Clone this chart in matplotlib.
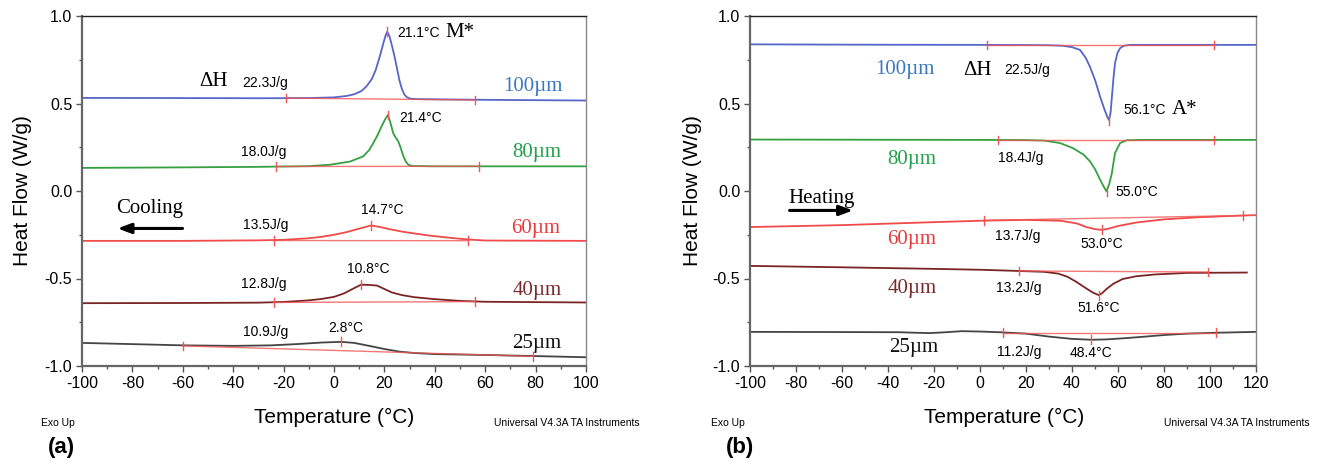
import numpy as np
import matplotlib.pyplot as plt

plt.rcParams['font.family'] = ['Liberation Sans', 'DejaVu Sans']
plt.rcParams['axes.unicode_minus'] = False

# ---- panel (a): cooling ----
a_T_100 = [-100, -60, -30, -10, 0, 5, 8, 11, 13, 15, 16.5, 18, 19.5, 20.5, 21.1, 22, 23, 24, 25, 26, 27, 28,
           29, 30.5, 33, 40, 60, 100]
a_HF_100 = [0.532, 0.531, 0.530, 0.531, 0.535, 0.543, 0.553, 0.572, 0.60, 0.64, 0.69, 0.76, 0.84, 0.89, 0.91,
            0.885, 0.83, 0.77, 0.70, 0.63, 0.58, 0.55, 0.535, 0.527, 0.525, 0.524, 0.521, 0.517]
a_T_80 = [-100, -60, -30, -10, -1.6, 6.3, 11.6, 14, 15.6, 17.5, 18.9, 20.3, 21.4, 22.2, 23.5, 24.5, 25.5, 26.5,
          27.5, 28.5, 29.5, 31, 40, 100]
a_HF_80 = [0.132, 0.135, 0.138, 0.142, 0.15, 0.168, 0.198, 0.235, 0.274, 0.325, 0.37, 0.41, 0.435, 0.40, 0.33,
           0.305, 0.284, 0.245, 0.20, 0.168, 0.15, 0.143, 0.141, 0.141]
a_T_60 = [-100, -60, -30, -20, -10, -5, 0, 5, 10, 14.7, 18, 22, 27, 32, 38, 45, 53, 60, 100]
a_HF_60 = [-0.285, -0.285, -0.282, -0.279, -0.27, -0.262, -0.25, -0.235, -0.215, -0.197, -0.205, -0.218,
           -0.232, -0.243, -0.255, -0.266, -0.277, -0.283, -0.285]
a_T_40 = [-100, -60, -30, -20, -10, -5, 0, 4, 8, 10.8, 14, 17, 20, 23, 27, 32, 40, 50, 60, 100]
a_HF_40 = [-0.641, -0.64, -0.638, -0.634, -0.625, -0.617, -0.605, -0.585, -0.555, -0.535, -0.537, -0.54,
           -0.56, -0.58, -0.595, -0.607, -0.618, -0.628, -0.633, -0.637]
a_T_25 = [-100, -80, -60, -40, -25, -15, -5, 2.8, 8, 14, 20, 26, 32, 40, 60, 79, 100]
a_HF_25 = [-0.868, -0.875, -0.882, -0.885, -0.882, -0.875, -0.866, -0.862, -0.868, -0.885, -0.903, -0.918,
           -0.926, -0.932, -0.937, -0.943, -0.95]

# integration limits / baselines (T start, T end, HF start, HF end)
a_base_T = [[-19, 56], [-23, 57.5], [-24, 53], [-24, 56], [-60, 79]]
a_base_HF = [[0.531, 0.52], [0.14, 0.141], [-0.283, -0.284], [-0.637, -0.632], [-0.885, -0.945]]
a_peak_T = [21.1, 21.4, 14.7, 10.8, 2.8]
a_peak_HF = [0.91, 0.435, -0.197, -0.535, -0.862]
a_enthalpy = ['22.3J/g', '18.0J/g', '13.5J/g', '12.8J/g', '10.9J/g']
a_peak_lbl = ['21.1°C', '21.4°C', '14.7°C', '10.8°C', '2.8°C']
a_lbl_T = [33.5, 34.3, 19, 13.7, 4.8]
a_lbl_HF = [0.905, 0.42, -0.11, -0.447, -0.784]
a_enth_T = [-27.5, -28, -27, -28, -27.3]
a_enth_HF = [0.62, 0.225, -0.197, -0.533, -0.807]
a_size_T = [78.8, 80.5, 80, 80.6, 80.6]
a_size_HF = [0.60, 0.22, -0.215, -0.57, -0.869]

# ---- panel (b): heating ----
b_T_100 = [-100, -50, 0, 20, 30, 36, 40, 43.5, 46, 47.8, 50, 52.2, 54, 55.3, 56.1, 56.8, 57.3, 58, 58.7,
           59.8, 60.9, 62.5, 65.2, 75, 120]
b_HF_100 = [0.838, 0.836, 0.835, 0.834, 0.833, 0.83, 0.822, 0.806, 0.76, 0.71, 0.635, 0.54, 0.47, 0.425,
            0.405, 0.45, 0.53, 0.64, 0.73, 0.79, 0.816, 0.83, 0.835, 0.835, 0.835]
b_T_80 = [-100, -50, 0, 20, 28, 34.8, 40.4, 45, 47.8, 50, 52.2, 54, 55.0, 56.2, 57.3, 58.7, 60.9, 63.8, 70, 120]
b_HF_80 = [0.294, 0.293, 0.292, 0.291, 0.288, 0.274, 0.245, 0.208, 0.17, 0.125, 0.065, 0.02, -0.002, 0.04,
           0.10, 0.217, 0.274, 0.29, 0.292, 0.292]
b_T_60 = [-100, -60, -20, 0, 20, 35, 42, 46, 50, 53, 56, 60, 68, 80, 95, 114.5, 120]
b_HF_60 = [-0.206, -0.195, -0.178, -0.17, -0.165, -0.17, -0.185, -0.205, -0.218, -0.222, -0.215, -0.20,
           -0.18, -0.162, -0.15, -0.14, -0.138]
b_T_40 = [-100, -60, -20, 0, 17, 28, 34, 38, 42, 46, 49, 51.6, 53, 55, 58, 62, 68, 76, 90, 116]
b_HF_40 = [-0.428, -0.436, -0.445, -0.45, -0.457, -0.462, -0.472, -0.49, -0.52, -0.555, -0.58, -0.595,
           -0.585, -0.56, -0.53, -0.503, -0.487, -0.477, -0.468, -0.466]
b_T_25 = [-100, -60, -35, -28, -22, -16, -8, 0, 10, 20, 30, 40, 48.4, 55, 62, 70, 80, 90, 102.7, 120]
b_HF_25 = [-0.805, -0.806, -0.807, -0.81, -0.812, -0.808, -0.801, -0.803, -0.808, -0.815, -0.832, -0.845,
           -0.85, -0.848, -0.842, -0.834, -0.823, -0.815, -0.81, -0.805]

b_base_T = [[3.2, 101.7], [7.7, 101.7], [1.7, 114.5], [16.9, 99], [10.1, 102.7]]
b_base_HF = [[0.835, 0.835], [0.292, 0.292], [-0.168, -0.14], [-0.457, -0.463], [-0.81, -0.81]]
b_peak_T = [56.1, 55.0, 53.0, 51.6, 48.4]
b_peak_HF = [0.405, -0.002, -0.222, -0.595, -0.85]
b_enthalpy = ['22.5J/g', '18.4J/g', '13.7J/g', '13.2J/g', '11.2J/g']
b_peak_lbl = ['56.1°C', '55.0°C', '53.0°C', '51.6°C', '48.4°C']
b_lbl_T = [71.8, 68.3, 52.8, 51.7, 48.3]
b_lbl_HF = [0.464, -0.006, -0.305, -0.67, -0.926]
b_enth_T = [20.3, 17.8, 16.5, 16.9, 16.9]
b_enth_HF = [0.69, 0.19, -0.257, -0.552, -0.918]
b_size_T = [-32.8, -29.7, -29.7, -29.7, -28.8]
b_size_HF = [0.696, 0.18, -0.276, -0.56, -0.894]

sizes = ['100\u00b5m', '80\u00b5m', '60\u00b5m', '40\u00b5m', '25\u00b5m']
line_colors = ['#5566c8', '#35a040', '#f04a4a', '#7a2424', '#444444']
label_colors = ['#3a78c2', '#22a048', '#e83a3a', '#7a2a2a', '#111111']
base_color = '#f25555'

W, H = 1318, 466
fig = plt.figure(figsize=(W / 100, H / 100), dpi=100)


def px(x, y):
    return x / W, 1 - y / H


def setup(ax, xmax):
    ax.set_xlim(-100, xmax)
    ax.set_ylim(-1.0, 1.0)
    ax.set_xticks(np.arange(-100, xmax + 1, 20))
    ax.set_xticks(np.arange(-90, xmax, 20), minor=True)
    ax.set_yticks([-1.0, -0.5, 0.0, 0.5, 1.0])
    ax.set_yticks([-0.75, -0.25, 0.25, 0.75], minor=True)
    ax.yaxis.set_major_formatter(plt.FormatStrFormatter('%.1f'))
    ax.tick_params(which='major', direction='out', length=4, width=1.0, color='#555555',
                   labelsize=11.5, pad=3)
    ax.tick_params(which='minor', direction='out', length=2, width=1.0, color='#555555')
    ax.tick_params(top=False, right=False)
    for s in ['left', 'bottom']:
        ax.spines[s].set_color('#666666')
        ax.spines[s].set_linewidth(1.6)
    ax.spines['top'].set_color('#222222')
    ax.spines['top'].set_linewidth(1.0)
    ax.spines['right'].set_color('#888888')
    ax.spines['right'].set_linewidth(1.0)


def draw(ax, curves, base_T, base_HF, peak_T, peak_HF):
    for (t, hf), c in zip(curves, line_colors):
        ax.plot(t, hf, color=c, lw=1.3, zorder=2)
    for bt, bh, pt, ph in zip(base_T, base_HF, peak_T, peak_HF):
        ax.plot(bt, bh, color=base_color, lw=1.0, alpha=0.8, zorder=3)
        for xt, yt in zip(bt, bh):
            ax.plot([xt, xt], [yt - 0.025, yt + 0.025], color=base_color, lw=1.0, zorder=3)
        ax.plot([pt, pt], [ph - 0.025, ph + 0.025], color=base_color, lw=1.0, zorder=3)


def labels(ax, enth, enth_T, enth_HF, pk, pk_T, pk_HF, sz_T, sz_HF):
    for i in range(5):
        ax.text(enth_T[i], enth_HF[i], enth[i], fontsize=10, ha='center', va='center')
        ax.text(pk_T[i], pk_HF[i], pk[i], fontsize=10, ha='center', va='center')
        ax.text(sz_T[i], sz_HF[i], sizes[i], fontsize=15, ha='center', va='center',
                color=label_colors[i], family='Liberation Serif')


# ---- (a) ----
ax1 = fig.add_axes([82 / W, 1 - 366 / H, (586 - 82) / W, (366 - 16) / H])
setup(ax1, 100)
draw(ax1, [(a_T_100, a_HF_100), (a_T_80, a_HF_80), (a_T_60, a_HF_60), (a_T_40, a_HF_40), (a_T_25, a_HF_25)],
     a_base_T, a_base_HF, a_peak_T, a_peak_HF)
labels(ax1, a_enthalpy, a_enth_T, a_enth_HF, a_peak_lbl, a_lbl_T, a_lbl_HF, a_size_T, a_size_HF)
ax1.text(-48, 0.627, '\u0394H', fontsize=15, ha='center', va='center', family='Liberation Serif')
ax1.text(50, 0.905, 'M*', fontsize=15, ha='center', va='center', family='Liberation Serif')
ax1.text(-73, -0.10, 'Cooling', fontsize=15, ha='center', va='center', family='Liberation Serif')
ax1.annotate('', xy=(-87, -0.214), xytext=(-59, -0.214),
             arrowprops=dict(arrowstyle='-|>,head_length=0.8,head_width=0.3', color='black', lw=2.2))

# ---- (b) ----
ax2 = fig.add_axes([750 / W, 1 - 366 / H, (1256 - 750) / W, (366 - 16) / H])
setup(ax2, 120)
draw(ax2, [(b_T_100, b_HF_100), (b_T_80, b_HF_80), (b_T_60, b_HF_60), (b_T_40, b_HF_40), (b_T_25, b_HF_25)],
     b_base_T, b_base_HF, b_peak_T, b_peak_HF)
labels(ax2, b_enthalpy, b_enth_T, b_enth_HF, b_peak_lbl, b_lbl_T, b_lbl_HF, b_size_T, b_size_HF)
ax2.text(-1, 0.687, '\u0394H', fontsize=15, ha='center', va='center', family='Liberation Serif')
ax2.text(89, 0.468, 'A*', fontsize=15, ha='center', va='center', family='Liberation Serif')
ax2.text(-69, -0.04, 'Heating', fontsize=15, ha='center', va='center', family='Liberation Serif')
ax2.annotate('', xy=(-54, -0.111), xytext=(-84, -0.111),
             arrowprops=dict(arrowstyle='-|>,head_length=0.8,head_width=0.3', color='black', lw=2.2))

# ---- outer texts ----
for x_ylab, x_tlab, x_exo, x_univ, x_tag, tag in [(23, 334, 41, 640, 48, '(a)'), (692, 1004, 711, 1310, 726, '(b)')]:
    fig.text(*px(x_ylab, 191), 'Heat Flow (W/g)', rotation=90, fontsize=15, ha='center', va='center')
    fig.text(*px(x_tlab, 417), 'Temperature (°C)', fontsize=15, ha='center', va='center')
    fig.text(*px(x_exo, 423), 'Exo Up', fontsize=7.5, ha='left', va='center')
    fig.text(*px(x_univ, 423), 'Universal V4.3A TA Instruments', fontsize=7.5, ha='right', va='center')
    fig.text(*px(x_tag, 448), tag, fontsize=16, fontweight='bold', ha='left', va='center')

fig.savefig('out.png', dpi=100)
